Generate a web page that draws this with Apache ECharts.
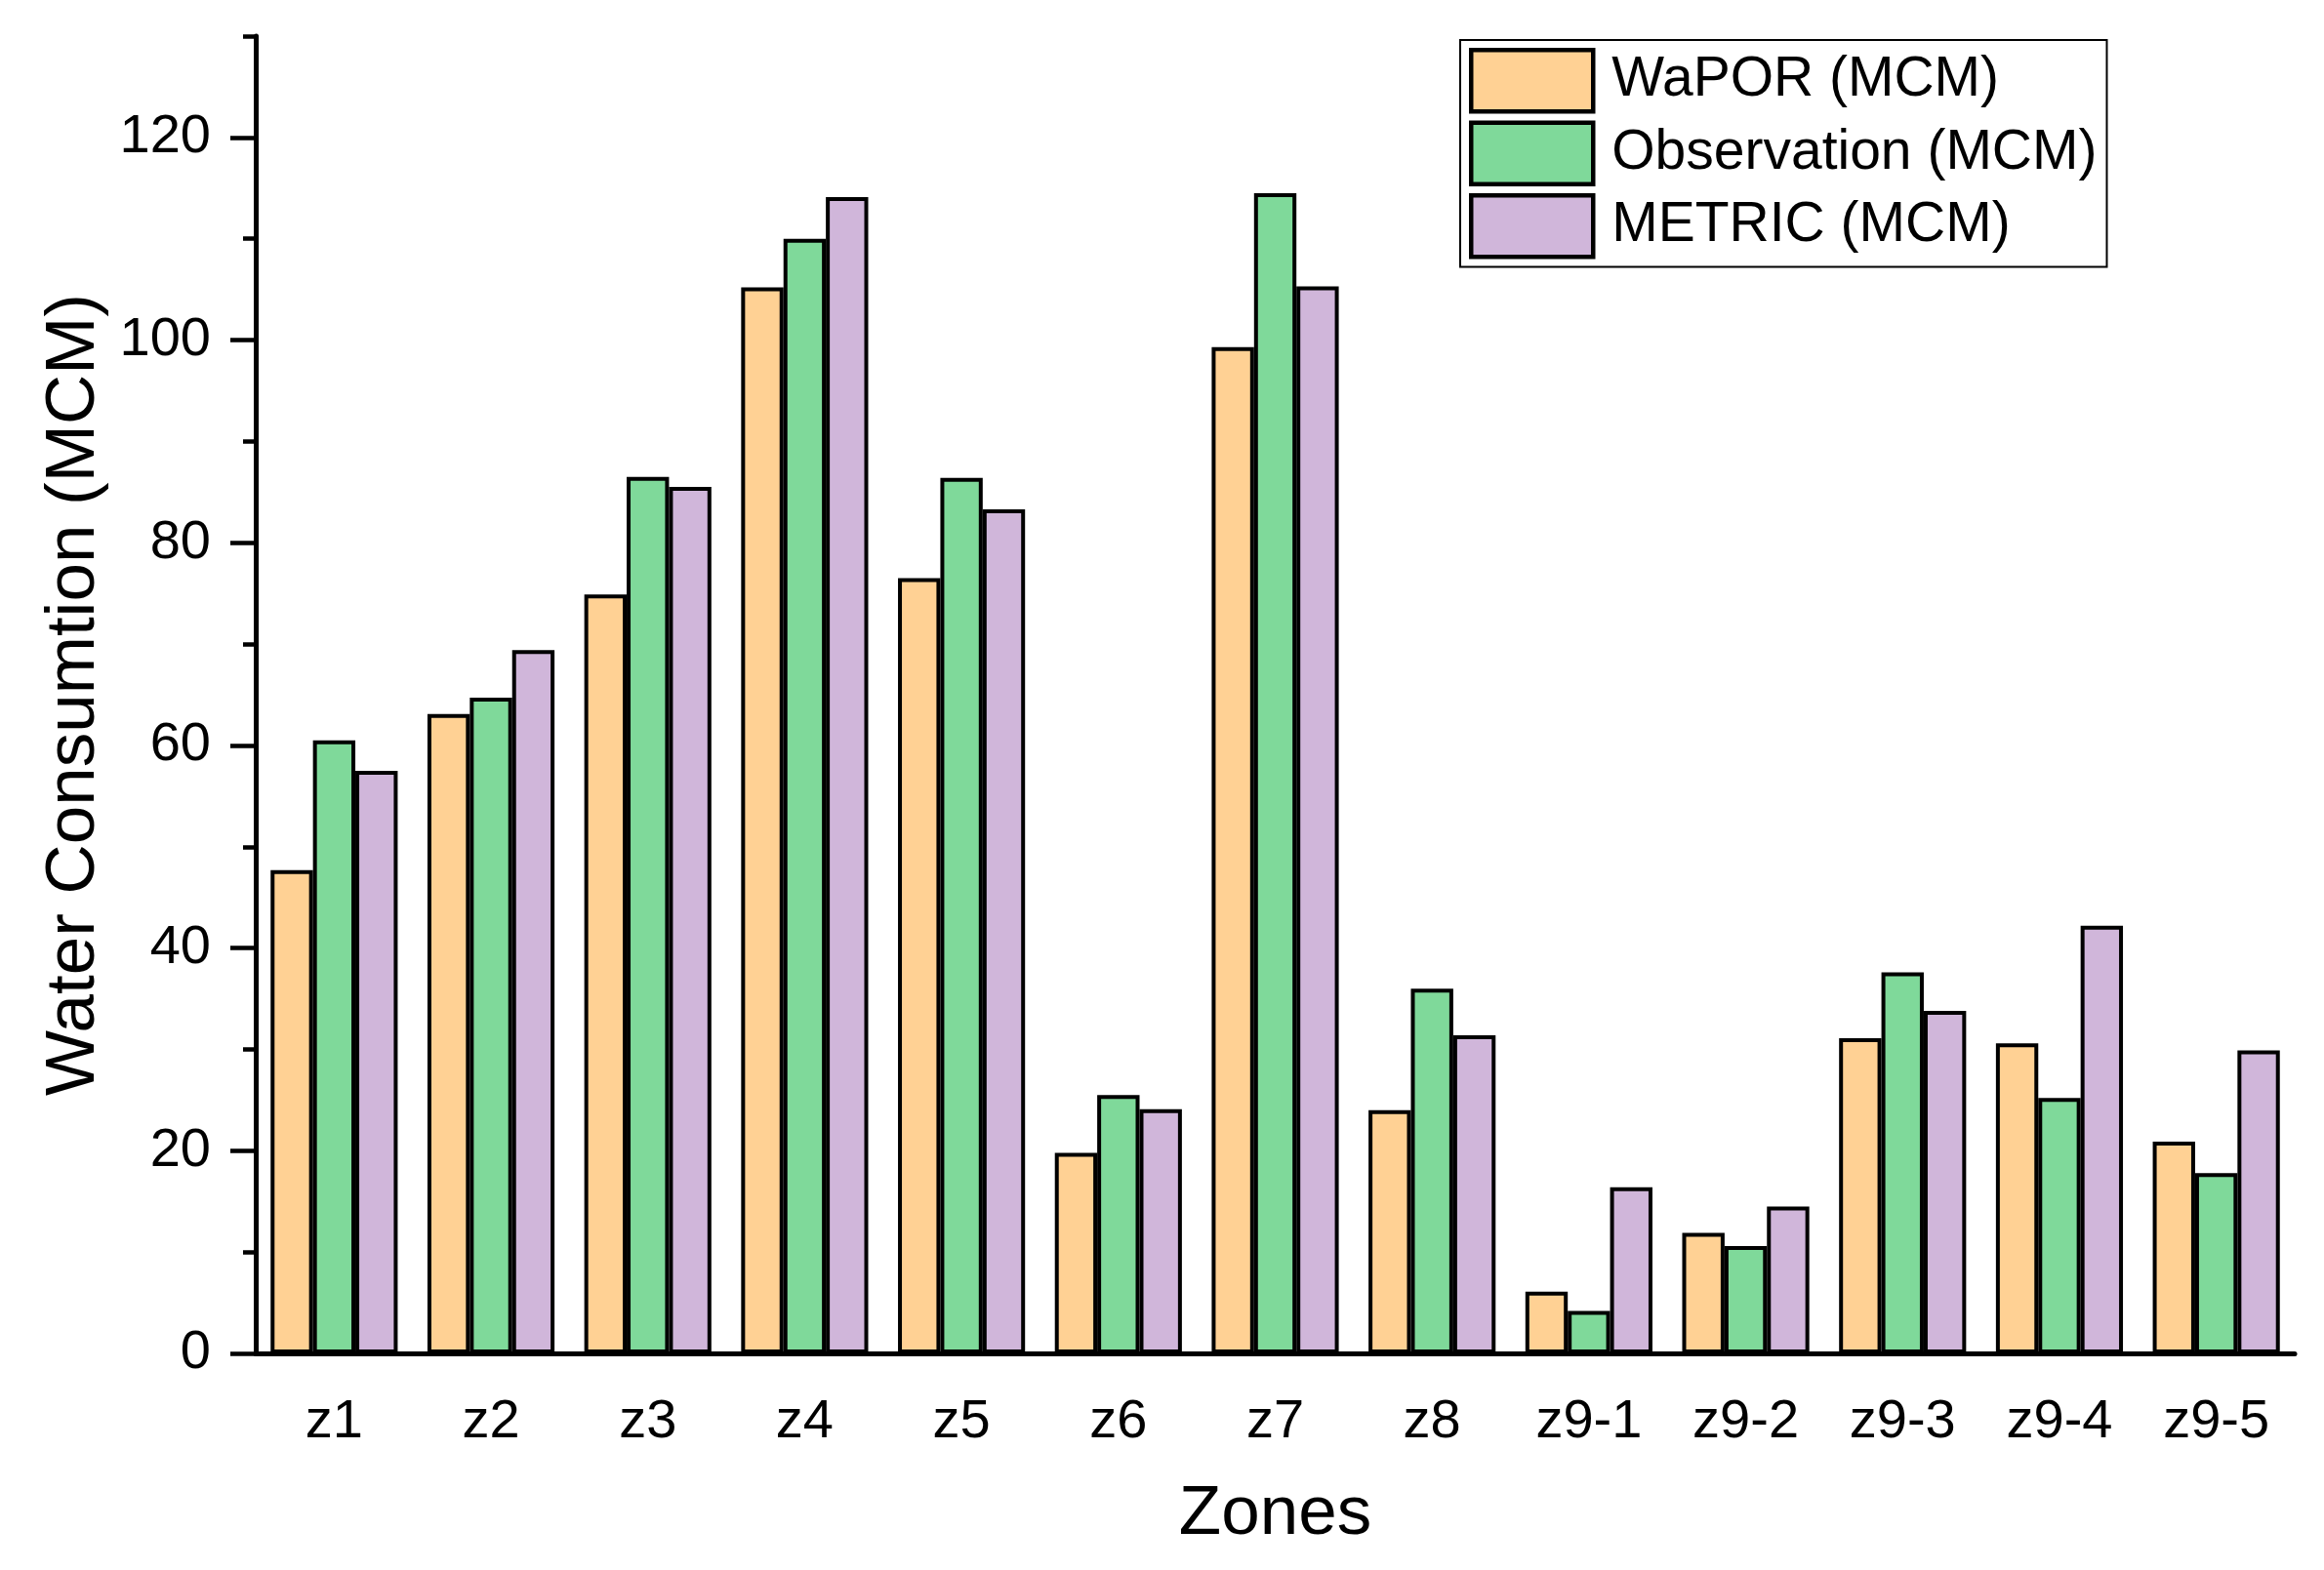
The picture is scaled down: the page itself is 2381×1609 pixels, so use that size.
<!DOCTYPE html>
<html><head><meta charset="UTF-8">
<title>Water Consumtion by zone</title>
<script src="https://cdn.jsdelivr.net/npm/echarts@6.0.0/dist/echarts.min.js"></script>
<style>
  *{ margin:0; padding:0; }
  html, body{ width:100%; height:100%; background:#fff; }
  #chart{ width:2381px; height:1609px; }
</style>
</head>
<body>
<div id="chart"></div>
<script>
// zones on the x axis
var zones = ['z1','z2','z3','z4','z5','z6','z7','z8','z9-1','z9-2','z9-3','z9-4','z9-5'];
// values (MCM)
var wapor       = [47.7, 63.1, 74.9, 105.2, 76.5, 19.8,  99.3, 24.0,  6.1, 11.9, 31.1, 30.6, 20.9];
var observation = [60.5, 64.7, 86.5, 110.0, 86.4, 25.5, 114.5, 36.0,  4.2, 10.6, 37.6, 25.2, 17.8];
var metric      = [57.5, 69.4, 85.5, 114.1, 83.3, 24.1, 105.3, 31.4, 16.4, 14.5, 33.8, 42.2, 29.9];
// y axis ticks
var yMajor = [0, 20, 40, 60, 80, 100, 120];
var yMinor = [10, 30, 50, 70, 90, 110, 130];

var font = 'Liberation Sans';
var black = '#000';

function bar(name, data, color){
    return {
        name: name,
        type: 'bar',
        data: data,
        barGap: '0%',
        barCategoryGap: '19%',
        itemStyle: { color: color, borderColor: black, borderWidth: 4 }
    };
}

var chart = echarts.init(document.getElementById('chart'));
chart.setOption({
    animation: false,
    textStyle: { fontFamily: font, color: black },
    grid: { left: 262, right: 30, top: 37, bottom: 222, containLabel: false },
    legend: {
        orient: 'vertical',
        left: 1496,
        top: 41,
        padding: [8, 10, 8, 9],
        itemWidth: 125,
        itemHeight: 63,
        itemGap: 7,
        borderColor: black,
        borderWidth: 2,
        icon: 'rect',
        itemStyle: { borderColor: black, borderWidth: 4.5 },
        textStyle: { fontSize: 57, color: black, fontFamily: font, padding: [0, 0, 0, 14] },
        data: ['WaPOR (MCM)', 'Observation (MCM)', 'METRIC (MCM)']
    },
    xAxis: [{
        type: 'category',
        position: 'bottom',
        data: zones,
        name: 'Zones',
        nameLocation: 'middle',
        nameGap: 130,
        nameTextStyle: { fontSize: 71, color: black, fontFamily: font },
        axisLine: { lineStyle: { color: black, width: 5 } },
        axisTick: { alignWithLabel: true, length: 26, lineStyle: { color: black, width: 4.5 } },
        axisLabel: { fontSize: 56, color: black, margin: 43, fontFamily: font }
    }, {
        type: 'category',
        position: 'bottom',
        data: zones,
        axisLine: { show: false },
        axisTick: { length: 13, lineStyle: { color: black, width: 4.5 } },
        axisLabel: { show: false }
    }],
    yAxis: [{
        type: 'value',
        min: 0,
        max: 130,
        interval: 10,
        name: 'Water Consumtion (MCM)',
        nameLocation: 'middle',
        nameRotate: 90,
        nameGap: 150,
        nameTextStyle: { fontSize: 71, color: black, fontFamily: font },
        splitLine: { show: false },
        axisLine: { show: true, lineStyle: { color: black, width: 5 } },
        axisTick: { show: true, length: 26, customValues: yMajor, lineStyle: { color: black, width: 4.5 } },
        axisLabel: { fontSize: 56, color: black, margin: 46, customValues: yMajor, fontFamily: font }
    }, {
        type: 'value',
        position: 'left',
        min: 0,
        max: 130,
        interval: 10,
        splitLine: { show: false },
        axisLine: { show: false },
        axisTick: { show: true, length: 13, customValues: yMinor, lineStyle: { color: black, width: 4.5 } },
        axisLabel: { show: false }
    }],
    series: [
        bar('WaPOR (MCM)', wapor, '#FFD194'),
        bar('Observation (MCM)', observation, '#7FD99A'),
        bar('METRIC (MCM)', metric, '#D0B6DA')
    ]
});
</script>
</body></html>
